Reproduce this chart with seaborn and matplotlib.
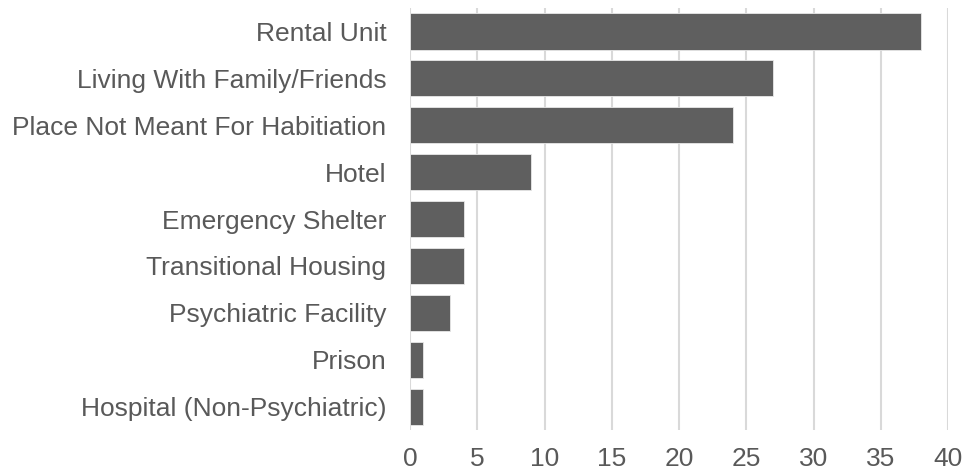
import matplotlib
matplotlib.use("Agg")
import matplotlib.pyplot as plt
import seaborn as sns
import pandas as pd

# data
categories = [
    "Rental Unit",
    "Living With Family/Friends",
    "Place Not Meant For Habitiation",
    "Hotel",
    "Emergency Shelter",
    "Transitional Housing",
    "Psychiatric Facility",
    "Prison",
    "Hospital (Non-Psychiatric)",
]
counts = [38, 27, 24, 9, 4, 4, 3, 1, 1]
x_ticks = [0, 5, 10, 15, 20, 25, 30, 35, 40]

df = pd.DataFrame({"category": categories, "count": counts})

sns.set_style("white")
plt.rcParams["font.family"] = ["Liberation Sans", "DejaVu Sans"]

TEXT = "#595959"
BAR = "#5f5f5f"
GRID = "#d9d9d9"

fig = plt.figure(figsize=(9.64, 4.71), dpi=100)
ax = fig.add_axes([0.4253, 0.087, 0.9835 - 0.4253, 0.983 - 0.087])

sns.barplot(data=df, x="count", y="category", order=categories,
            color=BAR, width=0.77, edgecolor="#e8e8e8", linewidth=0.6,
            saturation=1, ax=ax, zorder=3)

ax.set_xlim(0, 40)
ax.set_ylim(len(categories) - 0.5, -0.5)
ax.set_xticks(x_ticks)
ax.grid(axis="x", color=GRID, linewidth=1.5, zorder=0)
ax.grid(axis="y", visible=False)
for s in ax.spines.values():
    s.set_visible(False)

ax.tick_params(axis="both", length=0, colors=TEXT, labelsize=19)
ax.tick_params(axis="y", pad=17)
ax.tick_params(axis="x", pad=12)
ax.set_xlabel("")
ax.set_ylabel("")

fig.savefig("out.png", dpi=100)
